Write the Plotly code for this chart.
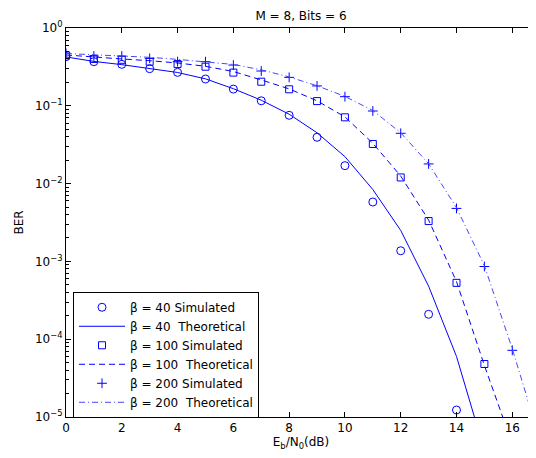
import plotly.graph_objects as go

# ---- data ----
snr_sim40 = list(range(0, 15))
ber_sim40 = [0.428, 0.369, 0.341, 0.300, 0.269, 0.221, 0.164, 0.116, 0.0755,
             0.0394, 0.0170, 5.8e-3, 1.37e-3, 2.09e-4, 1.23e-5]
snr_th40 = list(range(0, 16))
ber_th40 = [0.425, 0.372, 0.338, 0.302, 0.268, 0.222, 0.166, 0.118, 0.078,
            0.045, 0.0222, 8.4e-3, 2.5e-3, 4.8e-4, 6.0e-5, 3.7e-6]

snr_sim100 = list(range(0, 16))
ber_sim100 = [0.445, 0.40, 0.39, 0.369, 0.344, 0.318, 0.267, 0.204, 0.163,
              0.115, 0.0711, 0.0323, 0.0120, 3.3e-3, 5.3e-4, 4.8e-5]
snr_th100 = list(range(0, 17))
ber_th100 = [0.45, 0.42, 0.40, 0.38, 0.355, 0.322, 0.276, 0.215, 0.165,
             0.116, 0.072, 0.033, 0.0125, 3.4e-3, 5.5e-4, 4.6e-5, 4.5e-6]

snr_sim200 = list(range(0, 17))
ber_sim200 = [0.472, 0.436, 0.436, 0.407, 0.369, 0.369, 0.334, 0.280, 0.232,
              0.180, 0.131, 0.0857, 0.0443, 0.0179, 4.8e-3, 8.6e-4, 7.2e-5]
snr_th200 = list(range(0, 18))
ber_th200 = [0.47, 0.455, 0.44, 0.42, 0.395, 0.37, 0.34, 0.29, 0.235, 0.181,
             0.132, 0.087, 0.045, 0.018, 4.9e-3, 8.8e-4, 7.5e-5, 5e-6]

y_tickvals = [1e0, 1e-1, 1e-2, 1e-3, 1e-4, 1e-5]
y_ticktext = ["10<sup>0</sup>", "10<sup>−1</sup>", "10<sup>−2</sup>",
              "10<sup>−3</sup>", "10<sup>−4</sup>", "10<sup>−5</sup>"]
x_tickvals = [0, 2, 4, 6, 8, 10, 12, 14, 16]

minor_vals = [k * 10.0 ** d for d in range(-5, 0) for k in range(2, 10)]

BLUE = "rgb(0,0,255)"
FONT = "DejaVu Sans"

fig = go.Figure()
fig.add_trace(go.Scatter(x=snr_sim40, y=ber_sim40, mode="markers",
                         name="β = 40 Simulated",
                         marker=dict(symbol="circle-open", size=8, color=BLUE,
                                     line=dict(width=1, color=BLUE))))
fig.add_trace(go.Scatter(x=snr_th40, y=ber_th40, mode="lines",
                         name="β = 40  Theoretical",
                         line=dict(color=BLUE, width=1)))
fig.add_trace(go.Scatter(x=snr_sim100, y=ber_sim100, mode="markers",
                         name="β = 100 Simulated",
                         marker=dict(symbol="square-open", size=7, color=BLUE,
                                     line=dict(width=1, color=BLUE))))
fig.add_trace(go.Scatter(x=snr_th100, y=ber_th100, mode="lines",
                         name="β = 100  Theoretical",
                         line=dict(color=BLUE, width=1, dash="6px,4px")))
fig.add_trace(go.Scatter(x=snr_sim200, y=ber_sim200, mode="markers",
                         name="β = 200 Simulated",
                         marker=dict(symbol="cross-thin-open", size=7, color=BLUE,
                                     line=dict(width=1, color=BLUE))))
fig.add_trace(go.Scatter(x=snr_th200, y=ber_th200, mode="lines",
                         name="β = 200  Theoretical",
                         line=dict(color="rgb(70,70,255)", width=1,
                                   dash="6px,3px,1px,3px")))

fig.update_layout(
    width=528, height=450,
    margin=dict(l=58, r=0, t=20, b=41, autoexpand=False),
    paper_bgcolor="white", plot_bgcolor="white",
    font=dict(family=FONT, size=12, color="black"),
    title=dict(text="M = 8, Bits = 6", x=0.555, xanchor="center",
               y=0.9833, yanchor="middle",
               font=dict(family=FONT, size=12)),
    showlegend=True,
    legend=dict(x=0.0149, y=-0.002, xanchor="left", yanchor="bottom",
                bordercolor="black", borderwidth=1, bgcolor="white",
                font=dict(family=FONT, size=12), tracegroupgap=0,
                itemwidth=46),
    xaxis=dict(range=[0, 16.85], tickmode="array", tickvals=x_tickvals,
               ticks="inside", ticklen=5, tickcolor="black",
               showline=True, linecolor="black", linewidth=1, mirror="ticks",
               showgrid=False, zeroline=False, automargin=False,
               title=dict(text="E<sub>b</sub>/N<sub>0</sub>(dB)", standoff=2,
                          font=dict(family=FONT, size=12))),
    yaxis=dict(type="log", range=[-5, 0], tickmode="array",
               tickvals=y_tickvals, ticktext=y_ticktext,
               ticks="inside", ticklen=5, tickcolor="black",
               minor=dict(tickmode="array", tickvals=minor_vals,
                          ticks="inside", ticklen=3, tickcolor="black",
                          showgrid=False),
               showline=True, linecolor="black", linewidth=1, mirror=False,
               showgrid=False, zeroline=False, automargin=False,
               title=dict(text="BER", standoff=8,
                          font=dict(family=FONT, size=12))),
)

fig.write_html("out.html")
